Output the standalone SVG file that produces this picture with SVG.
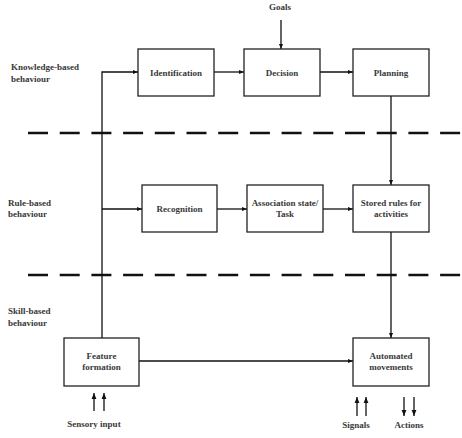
<svg xmlns="http://www.w3.org/2000/svg" width="462" height="438" viewBox="0 0 462 438">
<style>
.box{fill:#fff;stroke:#222;stroke-width:1.3}
.t{font-family:"Liberation Serif","Times New Roman",serif;font-weight:bold;font-size:9px;fill:#383838}
.c{text-anchor:middle}
.ln{fill:none;stroke:#111;stroke-width:1.3}
.dash{fill:none;stroke:#111;stroke-width:2.6;stroke-dasharray:20 11.7}
</style>
<defs>
<marker id="ah" viewBox="0 0 10 10" refX="10" refY="5" markerWidth="5" markerHeight="5" markerUnits="userSpaceOnUse" orient="auto">
<path d="M0,1 L10,5 L0,9 z" fill="#111"/>
</marker>
<marker id="ah2" viewBox="0 0 10 10" refX="10" refY="5" markerWidth="6" markerHeight="6" markerUnits="userSpaceOnUse" orient="auto">
<path d="M0,1 L10,5 L0,9 z" fill="#111"/>
</marker>
</defs>
<rect width="462" height="438" fill="#fff"/>
<g id="labels">
<text class="t" x="11" y="70">Knowledge-based</text>
<text class="t" x="11" y="82">behaviour</text>
<text class="t" x="8" y="206">Rule-based</text>
<text class="t" x="8" y="217">behaviour</text>
<text class="t" x="8" y="314">Skill-based</text>
<text class="t" x="8" y="326">behaviour</text>
<text class="t c" x="280" y="10">Goals</text>
<text class="t c" x="94" y="427">Sensory input</text>
<text class="t c" x="356" y="428">Signals</text>
<text class="t c" x="409" y="428">Actions</text>
</g>
<g id="dividers">
<line class="dash" x1="28" y1="133" x2="462" y2="133"/>
<line class="dash" x1="28" y1="275" x2="462" y2="275"/>
</g>
<g id="connectors">
<path class="ln" d="M102,338 V72 H138" marker-end="url(#ah)"/>
<path class="ln" d="M102,209 H142" marker-end="url(#ah)"/>
<path class="ln" d="M214,72 H244" marker-end="url(#ah)"/>
<path class="ln" d="M320,72 H353" marker-end="url(#ah)"/>
<path class="ln" d="M281,20 V49" marker-end="url(#ah)"/>
<path class="ln" d="M391,96 V185" marker-end="url(#ah)"/>
<path class="ln" d="M217,209 H247" marker-end="url(#ah)"/>
<path class="ln" d="M323,209 H353" marker-end="url(#ah)"/>
<path class="ln" d="M391,232 V338" marker-end="url(#ah)"/>
<path class="ln" d="M139,361 H353" marker-end="url(#ah)"/>
<path class="ln" d="M94,411 V393" marker-end="url(#ah2)"/>
<path class="ln" d="M104,411 V393" marker-end="url(#ah2)"/>
<path class="ln" d="M357,416 V397" marker-end="url(#ah2)"/>
<path class="ln" d="M366,416 V397" marker-end="url(#ah2)"/>
<path class="ln" d="M404,397 V416" marker-end="url(#ah2)"/>
<path class="ln" d="M414,397 V416" marker-end="url(#ah2)"/>
</g>
<g id="identification"><rect class="box" x="138" y="49" width="76" height="47"/><text class="t c" x="176" y="75.5">Identification</text></g>
<g id="decision"><rect class="box" x="244" y="49" width="76" height="47"/><text class="t c" x="282" y="75.5">Decision</text></g>
<g id="planning"><rect class="box" x="353" y="49" width="76" height="47"/><text class="t c" x="391" y="75.5">Planning</text></g>
<g id="recognition"><rect class="box" x="142" y="185" width="75" height="47"/><text class="t c" x="179.5" y="212">Recognition</text></g>
<g id="association"><rect class="box" x="247" y="185" width="76" height="47"/><text class="t c" x="285" y="206">Association state/</text><text class="t c" x="285" y="217">Task</text></g>
<g id="stored-rules"><rect class="box" x="353" y="185" width="76" height="47"/><text class="t c" x="391" y="206">Stored rules for</text><text class="t c" x="391" y="217">activities</text></g>
<g id="feature-formation"><rect class="box" x="64" y="338" width="75" height="48"/><text class="t c" x="101.5" y="359">Feature</text><text class="t c" x="101.5" y="370">formation</text></g>
<g id="automated-movements"><rect class="box" x="353" y="338" width="76" height="48"/><text class="t c" x="391" y="359">Automated</text><text class="t c" x="391" y="370">movements</text></g>
</svg>
